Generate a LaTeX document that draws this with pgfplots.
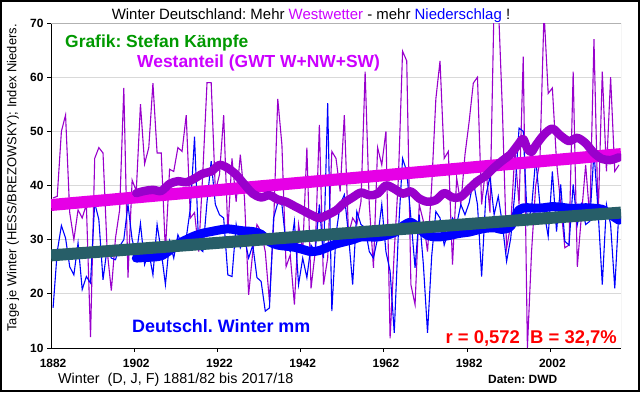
\documentclass[border=0pt]{standalone}
\usepackage{pgfplots}
\pgfplotsset{compat=1.18}
\usepackage{pgfplotstable}
\usepackage{fontspec}
\setmainfont{Liberation Sans}
\frenchspacing
\definecolor{westline}{RGB}{153,0,204}
\definecolor{westtrend}{RGB}{230,0,230}
\definecolor{tealtrend}{RGB}{39,94,104}
\definecolor{titlemag}{RGB}{204,0,255}
\definecolor{grafgreen}{RGB}{0,153,0}

\pgfplotstableread{
year val
1882 37.7
1883 38
1884 50
1885 53
1886 35
1887 30
1888 35.5
1889 34
1890 36.5
1891 12
1892 45
1893 47
1894 46
1895 28
1896 20.6
1897 30.3
1898 35.5
1899 58
1900 23
1901 41
1902 39
1903 55
1904 44
1905 47
1906 58.9
1907 46
1908 46
1909 27.8
1910 43
1911 42.6
1912 47
1913 46.3
1914 53
1915 34
1916 35
1917 27.8
1918 42.6
1919 59
1920 59
1921 39
1922 42
1923 53
1924 31.5
1925 45
1926 37
1927 45.7
1928 37.7
1929 19.8
1930 27.8
1931 32.8
1932 31.5
1933 27.8
1934 18.6
1935 32.8
1936 56
1937 47.5
1938 25
1939 27.2
1940 18
1941 32.8
1942 27.8
1943 47
1944 21
1945 27.8
1946 51.2
1947 21.7
1948 26.6
1949 46.3
1950 45
1951 38.9
1952 53
1953 30.9
1954 34
1955 32.8
1956 37
1957 61
1958 36.5
1959 24.8
1960 47
1961 43.8
1962 50
1963 11.8
1964 27.8
1965 41.4
1966 64.8
1967 63
1968 21.7
1969 18
1970 36.5
1971 33.4
1972 27.8
1973 40
1974 56
1975 63
1976 45
1977 46.3
1978 25.4
1979 41.4
1980 36.5
1981 45.7
1982 51.8
1983 58.9
1984 60
1985 36.5
1986 43.4
1987 35
1988 74
1989 74
1990 53.7
1991 28.4
1992 32.8
1993 46.3
1994 36.5
1995 63.8
1996 10
1997 27.8
1998 40
1999 44.5
2000 72
2001 57
2002 58
2003 44.5
2004 36.5
2005 28.5
2006 29
2007 61
2008 25
2009 34.6
2010 43.8
2011 34
2012 67
2013 34
2014 61
2015 42.6
2016 60
2017 42.6
2018 43.8
}\west

\pgfplotstableread{
year val
1882 17.4
1883 27.8
1884 32.6
1885 30.3
1886 25
1887 23.5
1888 29.4
1889 20.8
1890 23.2
1891 22
1892 36.8
1893 33.7
1894 22.6
1895 28.5
1896 26.6
1897 26.3
1898 28.8
1899 30
1900 36.5
1901 30
1902 27.2
1903 33
1904 25.4
1905 27.8
1906 23.5
1907 32.8
1908 27.8
1909 21.7
1910 29.7
1911 26.6
1912 30.9
1913 29
1914 30.3
1915 35.8
1916 49
1917 28.5
1918 27.8
1919 37
1920 44.5
1921 36.5
1922 34.6
1923 34
1924 23.5
1925 23.2
1926 32.8
1927 28.5
1928 30.3
1929 26.6
1930 29
1931 23
1932 22.3
1933 16.8
1934 17.4
1935 34
1936 36.8
1937 36.5
1938 29
1939 27.8
1940 33.4
1941 21.7
1942 26.6
1943 23
1944 29
1945 27.8
1946 36.5
1947 26.6
1948 55.2
1949 16.8
1950 31
1951 36.5
1952 38.3
1953 30.9
1954 21.7
1955 35.2
1956 32.8
1957 32.2
1958 27.8
1959 26.6
1960 30.3
1961 36.5
1962 27.8
1963 24.2
1964 12.8
1965 31.5
1966 45
1967 42.6
1968 34
1969 24.8
1970 34.6
1971 25.4
1972 12.8
1973 27
1974 35.2
1975 34
1976 29
1977 31.5
1978 34
1979 32.8
1980 36.5
1981 34.6
1982 36.8
1983 40.8
1984 36.5
1985 23.2
1986 38
1987 41.7
1988 34.6
1989 38
1990 32.8
1991 26
1992 30.3
1993 38.9
1994 50.6
1995 50
1996 33
1997 35.8
1998 45
1999 36.5
2000 35.2
2001 30.6
2002 42.6
2003 31.5
2004 40.2
2005 29.7
2006 29
2007 40.2
2008 32.8
2009 36.5
2010 32.8
2011 33.4
2012 46.3
2013 35.2
2014 21.7
2015 36.5
2016 32.8
2017 21
2018 35.5
}\rain

\pgfplotstableread{
year val
1902 38.6
1904 39.0
1906 39.2
1908 39.0
1910 40.3
1912 40.8
1914 40.6
1916 41.3
1918 42.2
1920 42.6
1922 43.8
1924 43.2
1926 42.0
1928 40.2
1930 38.5
1932 37.8
1934 38.2
1936 37.4
1938 37.0
1940 36.2
1942 35.4
1944 34.6
1946 34.0
1948 34.6
1950 35.4
1952 36.8
1954 37.8
1956 38.7
1958 38.2
1960 38.5
1962 40.0
1964 39.4
1966 38.5
1968 38.9
1970 37.6
1972 37.0
1974 37.3
1976 38.6
1978 37.8
1980 37.9
1982 39.4
1984 40.8
1986 41.8
1988 43.3
1990 44.6
1992 45.8
1994 47.8
1995 48.6
1996 46.8
1997 46.2
1998 47.4
2000 49.4
2002 50.5
2004 49.2
2006 48.2
2008 48.8
2010 47.8
2012 46.0
2014 44.9
2016 44.7
2018 45.2
}\westsm

\pgfplotstableread{
year val
1902 26.6
1904 26.7
1906 26.8
1908 27.0
1910 28.0
1912 29.2
1914 30.0
1916 30.7
1918 31.2
1920 31.5
1922 31.8
1924 32.0
1926 31.8
1928 31.6
1930 31.5
1932 31.0
1934 29.6
1936 29.0
1938 28.8
1940 28.6
1942 28.2
1944 27.8
1946 28.0
1948 28.6
1950 29.2
1952 29.6
1954 30.0
1956 30.5
1958 30.5
1960 30.5
1962 30.8
1964 31.3
1966 32.5
1968 33.2
1970 32.0
1972 30.8
1974 30.5
1976 30.6
1978 30.9
1980 31.2
1982 31.4
1984 31.8
1986 32.1
1988 32.2
1990 31.9
1992 32.5
1994 35.5
1996 35.9
1998 35.8
2000 35.9
2002 36.1
2004 36.0
2006 35.8
2008 35.8
2010 35.9
2012 35.8
2014 35.6
2016 34.6
2018 33.6
}\rainsm

\begin{document}
\begin{tikzpicture}[x=1bp,y=1bp]
\useasboundingbox (0,0) rectangle (640,392);
\fill[white] (0,0) rectangle (640,392);
\begin{axis}[
  at={(51bp,44bp)}, anchor=south west,
  scale only axis, width=570bp, height=325bp,
  xmin=1881.5, xmax=2018.5, ymin=10, ymax=70,
  axis x line*=bottom, axis y line*=left,
  axis line style={black, line width=1bp},
  xtick={1882,1902,1922,1942,1962,1982,2002},
  xtick style={draw=none},
  ytick={10,20,30,40,50,60,70},
  ytick style={black, line width=0.8bp},
  tick align=outside, major tick length=4bp,
  ymajorgrids, major grid style={gray!30, line width=0.8bp},
  tick label style={font=\bfseries\fontsize{12}{14}\selectfont},
  xticklabel style={yshift=-4bp},
  /pgf/number format/assume math mode=true,
  /pgf/number format/1000 sep={},
  clip=true,
]
\draw[gray!60, line width=0.8bp] (rel axis cs:0,1) -- (rel axis cs:1,1) -- (rel axis cs:1,0);
\addplot[westline, line width=1.1bp] table[x=year,y=val] {\west};
\addplot[blue, line width=1.1bp] table[x=year,y=val] {\rain};
\addplot[westtrend, line width=12bp] coordinates {(1881.5,36.4) (2018.5,45.8)};
\addplot[westline, line width=8.5bp, smooth, line cap=round, line join=round] table[x=year,y=val] {\westsm};
\addplot[blue, line width=9bp, smooth, line cap=round, line join=round] table[x=year,y=val] {\rainsm};
\addplot[tealtrend, line width=12bp] coordinates {(1881.5,27.1) (2018.5,35.0)};
\end{axis}
\foreach \i in {1,...,6} \draw[black, line width=0.8bp] (51+83.21*\i,44) -- ++(0,-4);
\node[anchor=base, font=\fontsize{15}{18}\selectfont, inner sep=0] at (311,372.5) {Winter Deutschland: Mehr \textcolor{titlemag}{Westwetter} - mehr \textcolor{blue}{Niederschlag} !};
\node[anchor=base west, font=\bfseries\fontsize{17.5}{20}\selectfont, text=grafgreen, inner sep=0] at (65,345) {Grafik: Stefan Kämpfe};
\node[anchor=base west, font=\bfseries\fontsize{17.5}{20}\selectfont, text=titlemag, inner sep=0] at (137,325) {Westanteil (GWT W+NW+SW)};
\node[anchor=base west, font=\bfseries\fontsize{18}{20}\selectfont, text=blue, inner sep=0] at (132,60) {Deutschl. Winter mm};
\node[anchor=base east, font=\bfseries\fontsize{18.5}{20}\selectfont, text=red, inner sep=0] at (617,49) {r = 0,572\ \ B = 32,7\%};
\node[anchor=base west, font=\fontsize{14.4}{16}\selectfont, inner sep=0] at (58,9) {Winter\ \ (D, J, F) 1881/82 bis 2017/18};
\node[anchor=base west, font=\bfseries\fontsize{12}{14}\selectfont, inner sep=0] at (488,9) {Daten: DWD};
\node[rotate=90, font=\fontsize{13}{15}\selectfont, inner sep=0] at (13,214) {Tage je Winter (HESS/BREZOWSKY); Index Nieders.};
\draw[black, line width=2bp] (1,1) rectangle (639,391);
\end{tikzpicture}
\end{document}
